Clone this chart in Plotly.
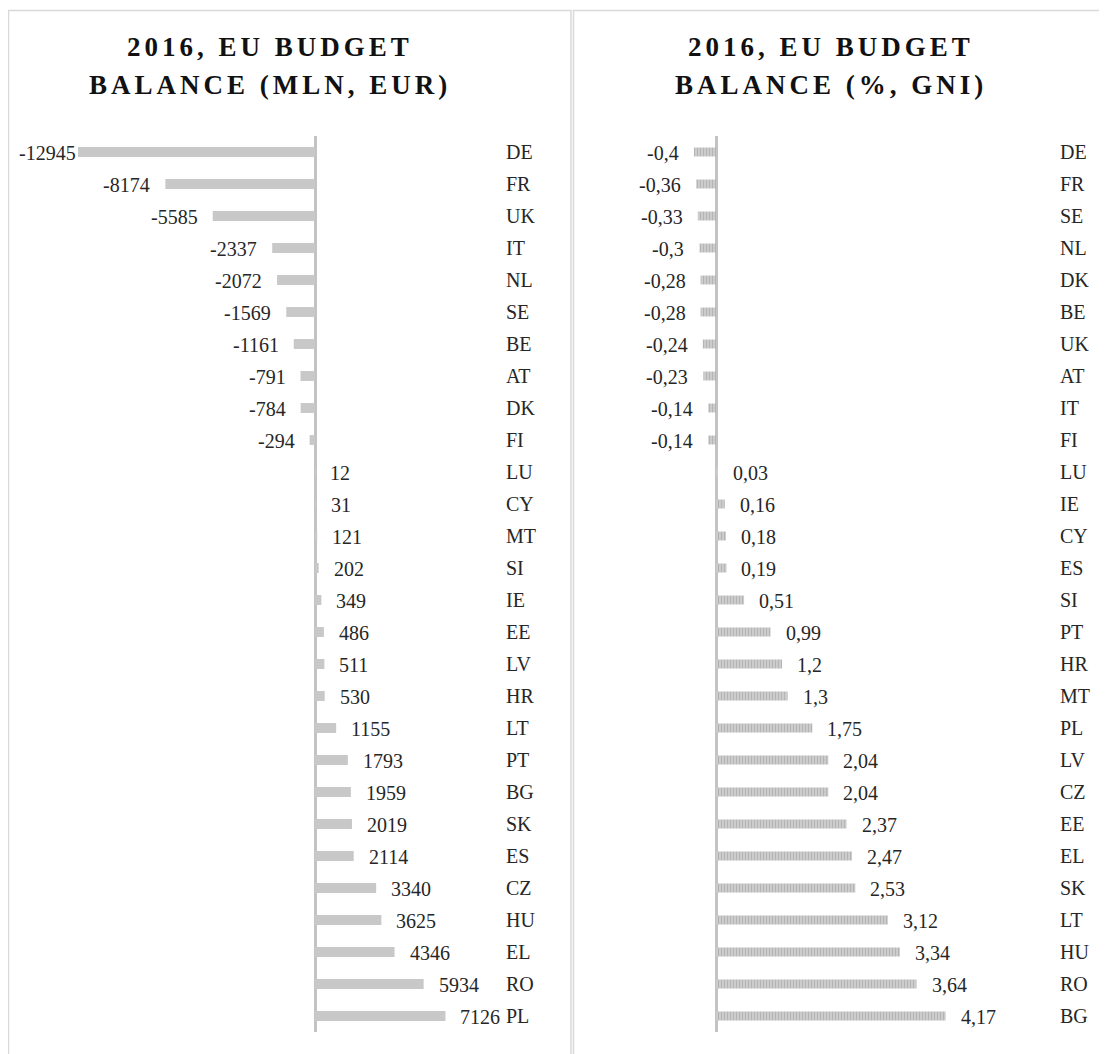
import plotly.graph_objects as go

# ---------------- data ----------------
left_countries = ["DE", "FR", "UK", "IT", "NL", "SE", "BE", "AT", "DK", "FI",
                  "LU", "CY", "MT", "SI", "IE", "EE", "LV", "HR", "LT", "PT",
                  "BG", "SK", "ES", "CZ", "HU", "EL", "RO", "PL"]
left_values = [-12945, -8174, -5585, -2337, -2072, -1569, -1161, -791, -784, -294,
               12, 31, 121, 202, 349, 486, 511, 530, 1155, 1793,
               1959, 2019, 2114, 3340, 3625, 4346, 5934, 7126]

right_countries = ["DE", "FR", "SE", "NL", "DK", "BE", "UK", "AT", "IT", "FI",
                   "LU", "IE", "CY", "ES", "SI", "PT", "HR", "MT", "PL", "LV",
                   "CZ", "EE", "EL", "SK", "LT", "HU", "RO", "BG"]
right_values = [-0.4, -0.36, -0.33, -0.3, -0.28, -0.28, -0.24, -0.23, -0.14, -0.14,
                0.03, 0.16, 0.18, 0.19, 0.51, 0.99, 1.2, 1.3, 1.75, 2.04,
                2.04, 2.37, 2.47, 2.53, 3.12, 3.34, 3.64, 4.17]

left_title = ["2016, EU BUDGET", "BALANCE (MLN, EUR)"]
right_title = ["2016, EU BUDGET", "BALANCE (%, GNI)"]

# ---------------- layout helpers ----------------
OFF = 8                     # page body margin of the browser
W, H = 1107 - OFF, 1054 - OFF
FONT = "Liberation Serif, Times New Roman, serif"
TXT = "#262626"


def fx(px):
    return (px - OFF) / W


def fy(px):
    return 1 - (px - OFF) / H


# scales: left 0 at px 315 ; right 0 at px 716
L0, L1, Lz, Ls = 17, 505, 315, (315 - 78) / 12945
R0, R1, Rz, Rs = 600, 1059, 716, (945.7 - 716) / 4.17
lmin, lmax = (L0 - Lz) / Ls, (L1 - Lz) / Ls
rmin, rmax = (R0 - Rz) / Rs, (R1 - Rz) / Rs

fig = go.Figure()

fig.add_trace(go.Bar(
    x=left_values, y=left_countries, orientation="h",
    xaxis="x", yaxis="y", width=0.31,
    marker=dict(color="#c8c8c8", line=dict(width=0)),
    hoverinfo="x+y", showlegend=False,
))

fig.add_trace(go.Bar(
    x=right_values, y=right_countries, orientation="h",
    xaxis="x2", yaxis="y2", width=0.28,
    marker=dict(color="#d4d4d4", line=dict(width=0),
                pattern=dict(shape="|", fgcolor="#969696", bgcolor="#d4d4d4",
                             size=3, solidity=0.5)),
    hoverinfo="x+y", showlegend=False,
))


def label(v, txt, xref, yref, c, vmin, scale):
    d = dict(y=c, xref=xref, yref=yref, text=txt, showarrow=False, yshift=-1,
             font=dict(family=FONT, size=20, color=TXT))
    if v >= 0:
        d.update(x=v, xanchor="left", xshift=13)
    else:
        est = 10.5 * len(txt)
        # keep the label inside the plot area (as the original does)
        if (v - vmin) * scale < est + 13:
            d.update(x=vmin, xanchor="left", xshift=0)
        else:
            d.update(x=v, xanchor="right", xshift=-13)
    return d


annotations = []
for c, v in zip(left_countries, left_values):
    annotations.append(label(v, str(v), "x", "y", c, lmin, Ls))
for c, v in zip(right_countries, right_values):
    annotations.append(label(v, ("%g" % v).replace(".", ","), "x2", "y2", c, rmin, Rs))

for title, cx in ((left_title, 270), (right_title, 831)):
    for line, cy in zip(title, (47, 85)):
        annotations.append(dict(
            x=fx(cx), y=fy(cy), xref="paper", yref="paper",
            xanchor="center", yanchor="middle", showarrow=False,
            text="<b><span style='letter-spacing:4px'>" + line + "</span></b>",
            font=dict(family=FONT, size=27, color="#111111"),
        ))

# panel borders
shapes = [
    dict(type="rect", xref="paper", yref="paper",
         x0=fx(8.5), x1=fx(571), y0=fy(1070), y1=fy(10.5),
         line=dict(color="#d9d9d9", width=1.5), fillcolor="rgba(0,0,0,0)", layer="below"),
    dict(type="rect", xref="paper", yref="paper",
         x0=fx(573.5), x1=fx(1120), y0=fy(1070), y1=fy(10.5),
         line=dict(color="#d9d9d9", width=1.5), fillcolor="rgba(0,0,0,0)", layer="below"),
]

axis_common = dict(showgrid=False, showticklabels=False, ticks="", showline=False,
                   zeroline=True, zerolinecolor="#c3c3c3", zerolinewidth=3,
                   fixedrange=True)
yaxis_common = dict(type="category", autorange="reversed", showgrid=False,
                    zeroline=False, showline=False, ticks="", side="right",
                    tickfont=dict(family=FONT, size=20, color=TXT),
                    automargin=False, fixedrange=True)

fig.update_layout(
    width=W, height=H,
    margin=dict(l=0, r=0, t=0, b=0),
    paper_bgcolor="white", plot_bgcolor="rgba(0,0,0,0)",
    xaxis=dict(domain=[fx(L0), fx(L1)], range=[lmin, lmax], anchor="y", **axis_common),
    yaxis=dict(domain=[fy(1032), fy(136)], anchor="x", **yaxis_common),
    xaxis2=dict(domain=[fx(R0), fx(R1)], range=[rmin, rmax], anchor="y2", **axis_common),
    yaxis2=dict(domain=[fy(1032), fy(136)], anchor="x2", **yaxis_common),
    annotations=annotations,
    shapes=shapes,
    showlegend=False,
)

fig.write_html("out.html")
